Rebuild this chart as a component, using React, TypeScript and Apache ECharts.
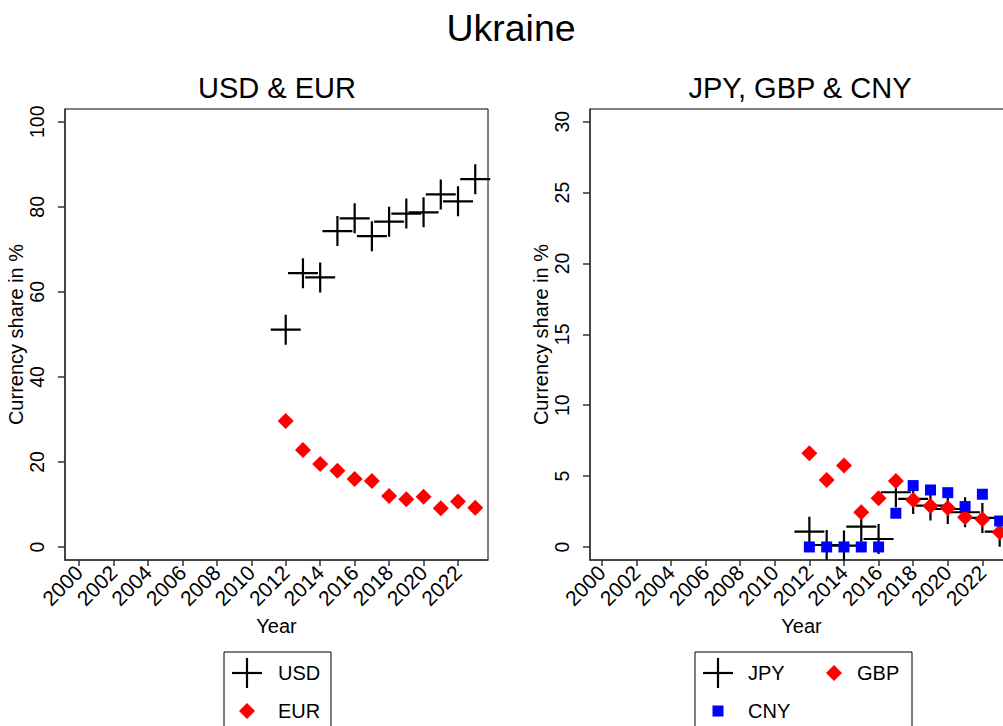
import React, { useEffect, useRef } from "react";
import * as echarts from "echarts";

const years = [2012, 2013, 2014, 2015, 2016, 2017, 2018, 2019, 2020, 2021, 2022, 2023];
const usd = [51.1, 64.4, 63.4, 74.3, 77.3, 73.1, 76.5, 78.4, 78.7, 82.9, 81.3, 86.5];
const eur = [29.6, 22.8, 19.5, 17.9, 16.0, 15.5, 12.0, 11.2, 11.8, 9.1, 10.7, 9.2];
const jpy = [1.08, 0.14, 0.1, 1.43, 0.56, 3.86, 3.39, 2.92, 2.68, 2.45, 2.05, 1.08];
const gbp = [6.61, 4.73, 5.74, 2.45, 3.44, 4.66, 3.32, 2.89, 2.75, 2.09, 1.95, 1.04];
const cny = [0, 0, 0, 0, 0, 2.38, 4.33, 4.02, 3.83, 2.85, 3.72, 1.83];

const xTicks = [2000, 2002, 2004, 2006, 2008, 2010, 2012, 2014, 2016, 2018, 2020, 2022];
const yTicksLeft = [0, 20, 40, 60, 80, 100];
const yTicksRight = [0, 5, 10, 15, 20, 25, 30];

const FONT = "'Liberation Sans', Arial, sans-serif";
const PLUS = "path://M0,15L30,15M15,0L15,30";
const AXIS_COLOR = "#333";

function pairs(ys: number[]) {
  return years.map((y, i) => [y, ys[i]]);
}

function xAxisCfg(gridIndex: number, min: number, max: number) {
  return {
    type: "value",
    gridIndex,
    min,
    max,
    position: "bottom",
    axisLine: { show: true, onZero: false, lineStyle: { color: AXIS_COLOR, width: 1.5 } },
    axisTick: { show: true, length: 6, customValues: xTicks, lineStyle: { color: AXIS_COLOR, width: 1.5 } },
    axisLabel: {
      customValues: xTicks,
      rotate: 45,
      margin: 9,
      fontSize: 21,
      color: "#000",
      fontFamily: FONT,
      formatter: (v: number) => String(v),
    },
    splitLine: { show: false },
    name: "Year",
    nameLocation: "middle",
    nameGap: 56,
    nameTextStyle: { fontSize: 20, color: "#000", fontFamily: FONT },
  };
}

function yAxisCfg(gridIndex: number, min: number, max: number, ticks: number[]) {
  return {
    type: "value",
    gridIndex,
    min,
    max,
    position: "left",
    axisLine: { show: true, onZero: false, lineStyle: { color: AXIS_COLOR, width: 1.5 } },
    axisTick: { show: true, length: 7, customValues: ticks, lineStyle: { color: AXIS_COLOR, width: 1.5 } },
    axisLabel: {
      customValues: ticks,
      rotate: 90,
      margin: 18,
      fontSize: 19.5,
      color: "#000",
      fontFamily: FONT,
    },
    splitLine: { show: false },
    name: "Currency share in %",
    nameLocation: "middle",
    nameRotate: 90,
    nameGap: 35,
    nameTextStyle: { fontSize: 20, color: "#000", fontFamily: FONT },
  };
}

function plusLines(cx: number, cy: number) {
  return [
    { type: "line", shape: { x1: cx - 15, y1: cy, x2: cx + 15, y2: cy }, style: { stroke: "#000", lineWidth: 2.2 } },
    { type: "line", shape: { x1: cx, y1: cy - 15, x2: cx, y2: cy + 15 }, style: { stroke: "#000", lineWidth: 2.2 } },
  ];
}

function diamond(cx: number, cy: number) {
  return {
    type: "polygon",
    shape: { points: [[cx, cy - 8], [cx + 8, cy], [cx, cy + 8], [cx - 8, cy]] },
    style: { fill: "#ff0000" },
  };
}

function label(text: string, x: number, y: number, size: number) {
  return {
    type: "text",
    x,
    y,
    style: { text, fontSize: size, fontFamily: FONT, fill: "#000", align: "left", verticalAlign: "middle" },
  };
}

function ctext(text: string, x: number, y: number, size: number) {
  return {
    type: "text",
    x,
    y,
    style: { text, fontSize: size, fontFamily: FONT, fill: "#000", align: "center", verticalAlign: "middle" },
  };
}

export default function App() {
  const ref = useRef<HTMLDivElement>(null);
  useEffect(() => {
    if (!ref.current) return;
    const chart = echarts.init(ref.current, null, { renderer: "svg" });
    chart.setOption({
      animation: false,
      backgroundColor: "#fff",
      textStyle: { fontFamily: FONT },
      grid: [
        { left: 65, top: 109, width: 423, height: 451, show: true, borderColor: "#000", borderWidth: 1 },
        { left: 590, top: 109, width: 423, height: 451, show: true, borderColor: "#000", borderWidth: 1 },
      ],
      xAxis: [xAxisCfg(0, 1999.19, 2023.74), xAxisCfg(1, 1999.32, 2023.77)],
      yAxis: [yAxisCfg(0, -3.06, 103, yTicksLeft), yAxisCfg(1, -0.92, 30.9, yTicksRight)],
      series: [
        {
          name: "USD", type: "scatter", xAxisIndex: 0, yAxisIndex: 0, data: pairs(usd),
          symbol: PLUS, symbolSize: 30, silent: true,
          itemStyle: { color: "#000", borderColor: "#000", borderWidth: 2.2, opacity: 1 },
        },
        {
          name: "EUR", type: "scatter", xAxisIndex: 0, yAxisIndex: 0, data: pairs(eur),
          symbol: "diamond", symbolSize: 16, silent: true, itemStyle: { color: "#ff0000", opacity: 1 },
        },
        {
          name: "JPY", type: "scatter", xAxisIndex: 1, yAxisIndex: 1, data: pairs(jpy),
          symbol: PLUS, symbolSize: 30, silent: true,
          itemStyle: { color: "#000", borderColor: "#000", borderWidth: 2.2, opacity: 1 },
        },
        {
          name: "GBP", type: "scatter", xAxisIndex: 1, yAxisIndex: 1, data: pairs(gbp),
          symbol: "diamond", symbolSize: 16, silent: true, itemStyle: { color: "#ff0000", opacity: 1 },
        },
        {
          name: "CNY", type: "scatter", xAxisIndex: 1, yAxisIndex: 1, data: pairs(cny),
          symbol: "rect", symbolSize: 11, silent: true, itemStyle: { color: "#0000ff", opacity: 1 },
        },
      ],
      graphic: [
        ctext("Ukraine", 511, 28, 37.5),
        ctext("USD & EUR", 277, 88, 29),
        ctext("JPY, GBP & CNY", 800, 88, 29),
        { type: "rect", shape: { x: 224, y: 652, width: 107, height: 95 }, style: { fill: "none", stroke: "#000", lineWidth: 1 } },
        ...plusLines(247, 673),
        label("USD", 278, 673, 20),
        diamond(247, 711),
        label("EUR", 278, 711, 20),
        { type: "rect", shape: { x: 695, y: 652, width: 217, height: 95 }, style: { fill: "none", stroke: "#000", lineWidth: 1 } },
        ...plusLines(718, 673),
        label("JPY", 748, 673, 20),
        diamond(834, 673),
        label("GBP", 857, 673, 20),
        { type: "rect", shape: { x: 712.5, y: 705.5, width: 11, height: 11 }, style: { fill: "#0000ff" } },
        label("CNY", 748, 711, 20),
      ],
    });
    return () => chart.dispose();
  }, []);
  return (
    <div style={{ position: "absolute", left: 0, top: 0, width: 1003, height: 726, overflow: "hidden" }}>
      <div ref={ref} style={{ position: "absolute", left: 0, top: 0, width: 1030, height: 726 }} />
    </div>
  );
}
